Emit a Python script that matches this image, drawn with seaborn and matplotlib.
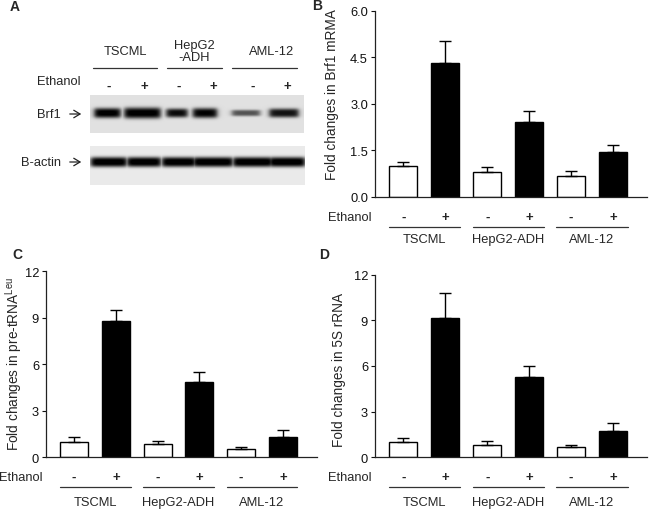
import matplotlib
matplotlib.use("Agg")
import matplotlib.pyplot as plt
import matplotlib.transforms as mtransforms
import numpy as np
import pandas as pd
import seaborn as sns

sns.set_style("ticks")
plt.rcParams["font.family"] = ["Liberation Sans", "DejaVu Sans"]
plt.rcParams["mathtext.default"] = "regular"
plt.rcParams["font.size"] = 9

# ---- data ----
groups = ["TSCML", "HepG2-ADH", "AML-12"]
ethanol = ["-", "+"]

brf1_mrna = [1.00, 4.30, 0.81, 2.40, 0.68, 1.44]
brf1_mrna_sem = [0.13, 0.72, 0.16, 0.35, 0.14, 0.23]

pre_trna = [0.97, 8.77, 0.86, 4.88, 0.54, 1.29]
pre_trna_sem = [0.36, 0.73, 0.22, 0.65, 0.15, 0.47]

rrna_5s = [0.99, 9.13, 0.83, 5.30, 0.66, 1.71]
rrna_5s_sem = [0.30, 1.64, 0.26, 0.68, 0.17, 0.55]

# western blot band strength per lane (0 = none, 1 = saturated)
brf1_band = [0.98, 0.98, 0.92, 0.95, 0.6, 0.88]
actin_band = [1.0, 1.0, 1.0, 1.0, 1.0, 1.0]

W, H = 650, 510
fig = plt.figure(figsize=(W / 100, H / 100), dpi=100)

# overlay axes in pixel coordinates for panel A and panel letters
ov = fig.add_axes([0, 0, 1, 1], zorder=0)
ov.axis("off")


def blot(signal, centers, widths, thick, box, band_y, bg):
    x0, x1, y0, y1 = box
    X, Y = np.meshgrid(np.arange(x0, x1) + 0.5, np.arange(y0, y1) + 0.5)
    dark = np.zeros_like(X)
    for s, c, w, t in zip(signal, centers, widths, thick):
        horiz = 1 / (1 + np.exp(-(X - (c - w / 2)) / 1.5)) / (1 + np.exp((X - (c + w / 2)) / 1.5))
        vert = np.exp(-np.abs((Y - band_y) / t) ** 3)
        dark = np.maximum(dark, s * horiz * vert)
    img = bg * (1 - np.clip(dark * 1.05, 0, 1))
    ov.imshow(img, cmap="gray", vmin=0, vmax=1, extent=(x0, x1, y1, y0),
              aspect="auto", interpolation="bilinear")


lane_x = [109, 144, 179, 213, 253, 287]
blot(brf1_band, [107.5, 142.5, 177, 205, 246, 284], [26, 36, 21, 24, 28, 29],
     [5.0, 5.5, 4.5, 5.0, 3.2, 4.5], (90, 304, 96, 134), 114, 0.88)
blot(actin_band, lane_x, [36, 34, 34, 40, 40, 36],
     [5.0] * 6, (90, 305, 147, 186), 163, 0.92)
ov.set_xlim(0, W)
ov.set_ylim(H, 0)

for name, cx, lx in zip(["TSCML", "HepG2\n-ADH", "AML-12"], [125, 194, 272],
                        [(93, 157), (167, 222), (232, 297)]):
    ov.text(cx, 52, name, ha="center", va="center", fontsize=9.3, linespacing=1.0)
    ov.plot(lx, [69, 69], color="#333333", lw=0.9)
ov.text(80, 82, "Ethanol", ha="right", va="center", fontsize=9.3)
for x, s in zip(lane_x, ethanol * 3):
    ov.text(x, 87, s, ha="center", va="center", fontsize=9.5, fontweight="bold")
ov.text(61, 115, "Brf1", ha="right", va="center", fontsize=9.3)
ov.text(61, 163, "B-actin", ha="right", va="center", fontsize=9.3)
for y in (115, 163):
    ov.annotate("", xy=(84, y), xytext=(67, y),
                arrowprops=dict(arrowstyle="->,head_length=0.5,head_width=0.3",
                                lw=0.9, color="#222222"))

for letter, x, y in [("A", 15, 7), ("B", 317, 6), ("C", 17, 255), ("D", 324, 255)]:
    ov.text(x, y, letter, ha="center", va="center", fontsize=10, fontweight="bold")


def panel(rect, values, sem, ymax, ticks, ticklabels, ylabel, label_xy, offs):
    l, r, t, b = rect
    ax = fig.add_axes([l / W, (H - b) / H, (r - l) / W, (b - t) / H], zorder=2)
    df = pd.DataFrame({
        "condition": [f"{g} {e}" for g in groups for e in ethanol],
        "ethanol": ethanol * len(groups),
        "value": values,
    })
    sns.barplot(data=df, x="condition", y="value", hue="ethanol",
                palette={"-": "white", "+": "black"}, saturation=1,
                edgecolor="black", linewidth=1.0, width=0.67, dodge=False,
                legend=False, errorbar=None, ax=ax)
    ax.errorbar(np.arange(len(values)), values, yerr=[np.zeros(len(sem)), sem],
                fmt="none", ecolor="black", elinewidth=1.0, capsize=4.5,
                capthick=1.0, zorder=3)
    ax.set_xlim(-0.675, 5.81)
    ax.set_ylim(0, ymax)
    ax.set_yticks(ticks)
    ax.set_yticklabels(ticklabels)
    ax.set_xticks([])
    ax.set_xlabel("")
    ax.set_ylabel(ylabel, fontsize=9.8)
    ax.yaxis.set_label_coords(*label_xy)
    ax.tick_params(axis="y", length=3, width=0.8, pad=2, labelsize=9.3, colors="#111111")
    sns.despine(ax=ax)
    for sp in ("left", "bottom"):
        ax.spines[sp].set_linewidth(0.9)
        ax.spines[sp].set_color("#222222")

    d_sign, d_line, d_lab = offs
    ax.annotate("Ethanol", xy=(0, 0), xycoords="axes fraction", xytext=(-3, -d_sign),
                textcoords="offset pixels", ha="right", va="center", fontsize=9.3)
    line_tr = mtransforms.offset_copy(ax.get_xaxis_transform(), fig=fig, y=-d_line, units="dots")
    for i, g in enumerate(groups):
        for j, e in enumerate(ethanol):
            ax.annotate(e, xy=(2 * i + j, 0), xycoords=("data", "axes fraction"),
                        xytext=(0, -d_sign), textcoords="offset pixels",
                        ha="center", va="center", fontsize=9.5, fontweight="bold")
        ax.plot([2 * i - 0.35, 2 * i + 1.35], [0, 0], transform=line_tr,
                color="#333333", lw=0.9, clip_on=False)
        ax.annotate(g, xy=(2 * i + 0.5, 0), xycoords=("data", "axes fraction"),
                    xytext=(0, -d_lab), textcoords="offset pixels",
                    ha="center", va="center", fontsize=9.3)
    return ax


panel((375, 647, 11.7, 197.7), brf1_mrna, brf1_mrna_sem, 6.0,
      [0, 1.5, 3.0, 4.5, 6.0], ["0.0", "1.5", "3.0", "4.5", "6.0"],
      "Fold changes in Brf1 mRMA", (-0.134, 0.557), (20.5, 30, 42.5))
panel((46, 316.7, 272.3, 458.3), pre_trna, pre_trna_sem, 12,
      [0, 3, 6, 9, 12], ["0", "3", "6", "9", "12"],
      "Fold changes in pre-tRNA$^{Leu}$", (-0.078, 0.51), (19.5, 29.5, 44.5))
panel((375, 647, 275.7, 458.3), rrna_5s, rrna_5s_sem, 12,
      [0, 3, 6, 9, 12], ["0", "3", "6", "9", "12"],
      "Fold changes in 5S rRNA", (-0.108, 0.485), (19.5, 29.5, 44.5))

fig.savefig("out.png", dpi=100)
